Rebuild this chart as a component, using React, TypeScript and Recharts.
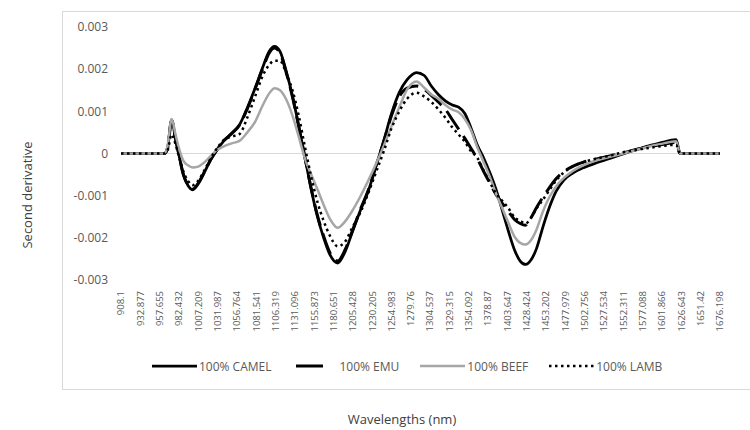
import React from "react";
import { LineChart, Line, XAxis, YAxis, ReferenceLine, Legend } from "recharts";

// sampled wavelengths (nm) shared by all four spectra
const wavelengths = [
  908.1, 964, 968, 973, 978, 982, 988, 994, 1000, 1007,
  1015, 1023, 1031, 1040, 1050, 1060, 1070, 1080, 1090, 1098,
  1105, 1112, 1120, 1128, 1136, 1144, 1152, 1160, 1168, 1176,
  1186, 1195, 1205, 1215, 1225, 1235, 1245, 1255, 1265, 1275,
  1287, 1297, 1306, 1315, 1324, 1333, 1341, 1349, 1357, 1365,
  1373, 1381, 1389, 1397, 1405, 1413, 1420, 1427, 1434, 1441,
  1449, 1457, 1466, 1476, 1488, 1502, 1518, 1535, 1552, 1570,
  1588, 1604, 1614, 1620, 1625, 1640, 1676.198,
];

const camel = [
  0, 0, 0.00015, 0.0008, 0.00035, 0, -0.0005, -0.00076, -0.00086, -0.00072,
  -0.00045, -0.00015, 0.00008, 0.0003, 0.00048, 0.00068, 0.00108, 0.00155, 0.00205, 0.00242,
  0.00254, 0.00242, 0.00195, 0.00136, 0.00065, -0.0001, -0.00085, -0.0015, -0.002, -0.0024,
  -0.0026, -0.00235, -0.00185, -0.00135, -0.0009, -0.0003, 0.0003, 0.00095, 0.00145, 0.00175,
  0.00192, 0.00185, 0.0016, 0.0014, 0.00125, 0.00115, 0.0011, 0.00095, 0.0006, 0.0002,
  -0.0001, -0.00045, -0.00085, -0.00135, -0.00185, -0.0023, -0.00255, -0.00263, -0.00252, -0.00225,
  -0.00175, -0.0013, -0.0009, -0.00063, -0.00046, -0.00033, -0.00022, -0.00012, -0.00001, 0.0001,
  0.0002, 0.00027, 0.00032, 0.00033, 0, 0, 0,
];

const emu = [
  0, 0, 0.00014, 0.00078, 0.00034, 0, -0.00049, -0.00075, -0.00085, -0.00071,
  -0.00044, -0.00015, 0.00008, 0.0003, 0.00047, 0.00067, 0.00106, 0.00153, 0.00202, 0.00238,
  0.0025, 0.00238, 0.00192, 0.00134, 0.00064, -0.0001, -0.00083, -0.00147, -0.00196, -0.00235,
  -0.00255, -0.0023, -0.00182, -0.00133, -0.00088, -0.0003, 0.00028, 0.0009, 0.00135, 0.00155,
  0.0016, 0.00152, 0.00138, 0.00122, 0.00105, 0.0008, 0.00058, 0.00036, 0.00012, -0.00012,
  -0.00042, -0.0007, -0.00097, -0.00118, -0.00138, -0.00157, -0.00166, -0.0017, -0.00152, -0.00128,
  -0.00104, -0.00082, -0.0006, -0.00043, -0.0003, -0.0002, -0.00013, -0.00006, 0.00001, 0.0001,
  0.00017, 0.00022, 0.00025, 0.00026, 0, 0, 0,
];

const beef = [
  0, 0, 0.0002, 0.00082, 0.00045, 0.00015, -0.00017, -0.00028, -0.00033, -0.00031,
  -0.00021, -0.00006, 0.00008, 0.00017, 0.00024, 0.0003, 0.0005, 0.00075, 0.00115, 0.00142,
  0.00155, 0.0015, 0.00128, 0.0009, 0.0004, -0.00012, -0.0005, -0.00085, -0.00122, -0.00155,
  -0.00176, -0.00162, -0.00135, -0.00102, -0.00065, -0.00025, 0.00018, 0.00065, 0.0011, 0.00152,
  0.00171, 0.00156, 0.0014, 0.0013, 0.00115, 0.00104, 0.00098, 0.00082, 0.00055, 0.00015,
  -0.0002, -0.00055, -0.00095, -0.0013, -0.00165, -0.00198, -0.00212, -0.00216, -0.00205, -0.0018,
  -0.00138, -0.00105, -0.00078, -0.00058, -0.00041, -0.00027, -0.00016, -0.00008, 0, 0.00009,
  0.00018, 0.00024, 0.00028, 0.00029, 0, 0, 0,
];

const lamb = [
  0, 0, 0.00008, 0.00045, 0.00022, -0.00005, -0.00042, -0.00065, -0.00075, -0.00065,
  -0.0004, -0.00012, 0.00012, 0.00032, 0.0004, 0.00046, 0.00085, 0.00135, 0.00185, 0.0021,
  0.0022, 0.0022, 0.0019, 0.0015, 0.0009, 0.00015, -0.00055, -0.00115, -0.0016, -0.00195,
  -0.0022, -0.0021, -0.00175, -0.0014, -0.00095, -0.00045, 0.00005, 0.0006, 0.001, 0.0013,
  0.00144, 0.00135, 0.00122, 0.00105, 0.00085, 0.00062, 0.00045, 0.00028, 0.00005, -0.0001,
  -0.0004, -0.00068, -0.00095, -0.00112, -0.0013, -0.00152, -0.0016, -0.00166, -0.00152, -0.0013,
  -0.0011, -0.00088, -0.00064, -0.00045, -0.0003, -0.0002, -0.00012, -0.00005, 0.00003, 0.00009,
  0.00014, 0.00018, 0.0002, 0.0002, 0, 0, 0,
];

const wavelengthTicks = [
  908.1, 932.877, 957.655, 982.432, 1007.209, 1031.987, 1056.764, 1081.541,
  1106.319, 1131.096, 1155.873, 1180.651, 1205.428, 1230.205, 1254.983, 1279.76,
  1304.537, 1329.315, 1354.092, 1378.87, 1403.647, 1428.424, 1453.202, 1477.979,
  1502.756, 1527.534, 1552.311, 1577.088, 1601.866, 1626.643, 1651.42, 1676.198,
];

const derivativeTicks = [-0.003, -0.002, -0.001, 0, 0.001, 0.002, 0.003];

const data = wavelengths.map((w, i) => ({
  w,
  camel: camel[i],
  emu: emu[i],
  beef: beef[i],
  lamb: lamb[i],
}));

const FONT = "'Open Sans', 'DejaVu Sans', sans-serif";
const LABEL_GREY = "#595959";

const series = [
  { key: "camel", name: "100% CAMEL", color: "#000000", width: 2.75, dash: undefined },
  { key: "emu", name: "100% EMU", color: "#000000", width: 3, dash: "22 8" },
  { key: "beef", name: "100% BEEF", color: "#a6a6a6", width: 2.5, dash: undefined },
  { key: "lamb", name: "100% LAMB", color: "#000000", width: 2.5, dash: "2.5 3.5" },
];

function WavelengthTick({ x, y, payload }: any) {
  return (
    <g transform={`translate(${x},${y}) rotate(-90)`}>
      <text x={0} y={0} dy="0.35em" textAnchor="end" fill={LABEL_GREY} fontSize={9.5} fontFamily={FONT}>
        {payload.value}
      </text>
    </g>
  );
}

function LegendSample({ item }: { item: (typeof series)[number] }) {
  // emu shows a single long dash in its swatch
  const x1 = item.key === "emu" ? 3 : 0;
  const x2 = item.key === "emu" ? 30 : 45;
  return (
    <svg width={45} height={10} style={{ marginRight: 2 }}>
      <line
        x1={x1}
        y1={5}
        x2={x2}
        y2={5}
        stroke={item.color}
        strokeWidth={item.width}
        strokeDasharray={item.key === "lamb" ? item.dash : undefined}
      />
    </svg>
  );
}

function renderLegend() {
  return (
    <div style={{ display: "flex", alignItems: "center", height: 20 }}>
      {series.map((s, i) => (
        <div key={s.key} style={{ display: "flex", alignItems: "center", marginLeft: i === 0 ? 0 : 21 }}>
          <LegendSample item={s} />
          <span style={{ fontFamily: FONT, fontSize: 12, color: LABEL_GREY }}>{s.name}</span>
        </div>
      ))}
    </div>
  );
}

export default function App() {
  return (
    <div
      style={{
        position: "absolute",
        left: 0,
        top: 0,
        width: 750,
        height: 430,
        overflow: "hidden",
        background: "#ffffff",
      }}
    >
      {/* chart border */}
      <div
        style={{
          position: "absolute",
          left: 62,
          top: 11,
          width: 720,
          height: 377,
          border: "1px solid #d9d9d9",
        }}
      />
      <div style={{ position: "absolute", left: 0, top: 0 }}>
        <LineChart width={750} height={430} data={data} margin={{ top: 27, right: 30, left: 0, bottom: 54 }}>
          <XAxis
            dataKey="w"
            type="number"
            domain={[908.1, 1676.198]}
            ticks={wavelengthTicks}
            interval={0}
            tick={<WavelengthTick />}
            axisLine={false}
            tickLine={false}
            tickMargin={5}
            height={76}
            label={{
              content: () => (
                <text x={402} y={424} textAnchor="middle" fill="#404040" fontSize={13} fontFamily={FONT}>
                  Wavelengths (nm)
                </text>
              ),
            }}
          />
          <YAxis
            type="number"
            domain={[-0.003, 0.003]}
            ticks={derivativeTicks}
            interval={0}
            width={121}
            axisLine={false}
            tickLine={false}
            tickMargin={7}
            tick={{ fill: LABEL_GREY, fontSize: 12, fontFamily: FONT }}
            label={{
              content: () => (
                <text
                  x={27}
                  y={195}
                  transform="rotate(-90 27 195)"
                  textAnchor="middle"
                  dominantBaseline="central"
                  fill="#404040"
                  fontSize={13}
                  fontFamily={FONT}
                >
                  Second derivative
                </text>
              ),
            }}
          />
          <ReferenceLine y={0} stroke="#d9d9d9" strokeWidth={1} />
          {series.map((s) => (
            <Line
              key={s.key}
              dataKey={s.key}
              name={s.name}
              type="monotone"
              stroke={s.color}
              strokeWidth={s.width}
              strokeDasharray={s.dash}
              dot={false}
              activeDot={false}
              isAnimationActive={false}
            />
          ))}
          <Legend content={renderLegend} wrapperStyle={{ left: 152, width: 580, height: 20 }} />
        </LineChart>
      </div>
    </div>
  );
}
